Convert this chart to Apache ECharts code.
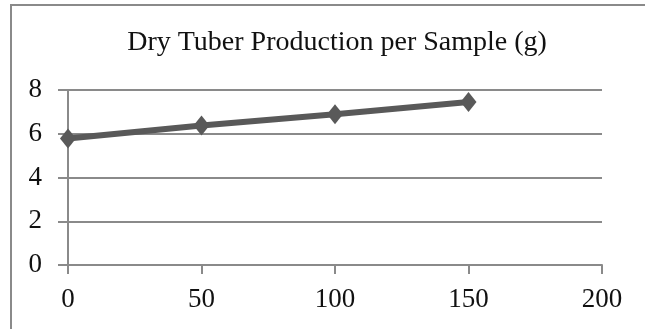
<!DOCTYPE html>
<html>
<head>
<meta charset="utf-8">
<script src="https://cdn.jsdelivr.net/npm/echarts@6/dist/echarts.min.js"></script>
<style>
  html, body { margin: 0; padding: 0; background: #fff; }
  #chart { width: 645px; height: 329px; }
</style>
</head>
<body>
<div id="chart"></div>
<script>
// data
const doses = [0, 50, 100, 150]
const dryTuber = [5.78, 6.38, 6.89, 7.45]
const xTicks = { min: 0, max: 200, interval: 50 }
const yTicks = { min: 0, max: 8, interval: 2 }

const chart = echarts.init(document.getElementById('chart'))
const gray = '#8a8a8a'
const font = 'Liberation Serif'

chart.setOption({
    animation: false,
    title: {
        text: 'Dry Tuber Production per Sample (g)',
        left: 332,
        textAlign: 'center',
        top: 24,
        textStyle: {
            fontFamily: font,
            fontSize: 28,
            fontWeight: 'normal',
            color: '#111',
        },
    },
    graphic: [
        {
            // chart frame, only the top and left edges are inside the picture
            type: 'polyline',
            shape: { points: [[11, 340], [11, 5], [660, 5]] },
            style: { fill: 'none', stroke: gray, lineWidth: 2 },
        },
    ],
    grid: {
        left: 68,
        right: 43,
        top: 90,
        bottom: 64,
    },
    xAxis: {
        type: 'value',
        min: xTicks.min,
        max: xTicks.max,
        interval: xTicks.interval,
        axisLine: { show: true, lineStyle: { color: gray, width: 2 } },
        axisTick: { show: true, length: 9, lineStyle: { color: gray, width: 2 } },
        splitLine: { show: false },
        axisLabel: {
            margin: 21,
            fontFamily: font,
            fontSize: 27,
            color: '#111',
        },
    },
    yAxis: {
        type: 'value',
        min: yTicks.min,
        max: yTicks.max,
        interval: yTicks.interval,
        axisLine: { show: true, lineStyle: { color: gray, width: 2 } },
        axisTick: { show: true, length: 10, lineStyle: { color: gray, width: 2 } },
        splitLine: { show: true, lineStyle: { color: gray, width: 2 } },
        axisLabel: {
            margin: 26,
            fontFamily: font,
            fontSize: 27,
            color: '#111',
        },
    },
    series: [
        {
            type: 'line',
            data: doses.map((d, i) => [d, dryTuber[i]]),
            symbol: 'diamond',
            symbolSize: [16, 20],
            lineStyle: { color: '#595959', width: 6 },
            itemStyle: { color: '#595959' },
        },
    ],
})
</script>
</body>
</html>
